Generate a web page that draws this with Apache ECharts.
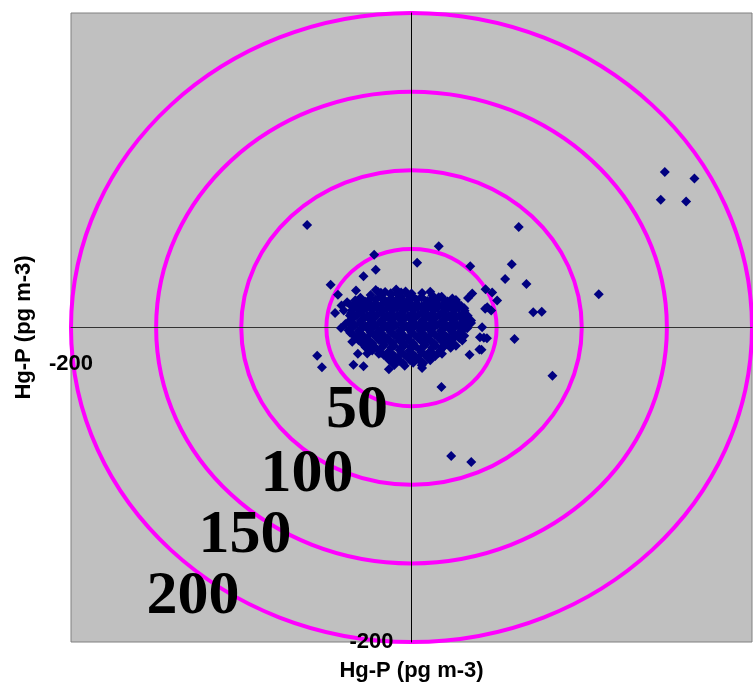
<!DOCTYPE html>
<html>
<head>
<meta charset="utf-8">
<script src="https://cdn.jsdelivr.net/npm/echarts@6/dist/echarts.min.js"></script>
<style>
html,body{margin:0;padding:0;background:#fff;}
#chart{width:753px;height:685px;}
</style>
</head>
<body>
<div id="chart"></div>
<script>
// ---- data ----
const axisTitle = 'Hg-P (pg m-3)';
const axisMin = -200;
const axisMax = 200;
const ringRadii = [50, 100, 150, 200];
const ringLabels = ['50', '100', '150', '200'];

// dense central cluster (pg m-3)
const clusterPoints = [
  [-21,23.8],[-15.5,22.6],[-9,24.1],[-3.5,22.9],
  [-24,20.6],[-18.2,19.8],[-12,20.9],[-6.3,19.5],[0.4,20.1],[5.8,19.2],[12.3,20.4],[17.7,19.6],
  [-33,17.4],[-27.3,16.6],[-21,17.8],[-15.2,16.9],[-9.1,17.3],[-2.8,16.4],[3.1,17.6],[9.2,16.8],[15,17.2],[21.2,16.5],[26.1,17.5],
  [-30.2,13.6],[-24,14.3],[-18.1,13.8],[-11.7,14.4],[-6,13.7],[0.2,14.2],[6.1,13.5],[12.2,14.1],[18,13.8],[24.3,14.4],[29.1,13.9],
  [-35,10.9],[-29.2,10.4],[-23,11.1],[-17.1,10.6],[-11.2,11],[-5,10.5],[1.1,11.2],[7.2,10.7],[13,10.9],[19.1,10.3],[25,11],[31.2,10.6],
  [-32.1,7.8],[-26,7.3],[-20.2,7.9],[-14,7.4],[-8.1,7.7],[-2,7.2],[4.1,7.9],[10,7.5],[16.2,7.8],[22,7.3],[28.1,7.7],[33,7.4],
  [-36.2,4.5],[-30,4.1],[-24.1,4.7],[-18,4.2],[-12.2,4.6],[-6,4.3],[0.1,4.8],[6.2,4.1],[12,4.5],[18.1,4.2],[24,4.6],[30.2,4.3],[35,4.5],
  [-33.2,1.5],[-27,1],[-21.1,1.6],[-15,1.1],[-9.2,1.4],[-3,0.9],[3.1,1.5],[9,1.2],[15.1,1.6],[21,1.0],[27.2,1.4],[33,1.1],
  [-37,-1.7],[-31.1,-2.2],[-25,-1.6],[-19.2,-2.1],[-13,-1.8],[-7.1,-2.3],[-1,-1.6],[5.1,-2.0],[11,-1.7],[17.2,-2.2],[23,-1.8],[29.1,-2.1],
  [-34,-4.9],[-28.2,-5.4],[-22,-4.8],[-16.1,-5.3],[-10,-5.0],[-4.2,-5.5],[2,-4.9],[8.1,-5.2],[14,-4.8],[20.2,-5.4],[26,-5.0],[31,-5.3],
  [-31.1,-8.1],[-25,-8.6],[-19.2,-8.0],[-13,-8.5],[-7.1,-8.2],[-1,-8.7],[5.2,-8.1],[11,-8.4],[17.1,-8.0],[23,-8.6],
  [-28,-11.2],[-22.1,-11.7],[-16,-11.1],[-10.2,-11.6],[-4,-11.3],[2.1,-11.8],[8,-11.2],[14.2,-11.5],[20,-11.1],[26.1,-11.6],
  [-19,-14.4],[-13.1,-14.9],[-7,-14.3],[-1.2,-14.8],[5,-14.5],[11.1,-14.9],[17,-14.4],
  [-16.1,-17.6],[-10,-18.1],[-4.1,-17.5],[2,-18],[8.1,-17.7],[14,-18.2],
  [-13,-20.8],[-7.1,-21.3],[-1,-20.7],[5.1,-21.2],[11,-20.9],
  [-10.1,-23.9],[-4,-24.4],[6,-24]
];

// more overlapping points inside the cluster (pg m-3)
const clusterPointsB = [
  [-18,22.1],[-12.2,21.8],[-6.1,22.3],[0,21.7],[6.2,22.0],
  [-30,18.9],[-24.1,18.5],[-18,19.0],[-12.1,18.4],[-6,18.8],[0.1,18.6],[6,19.0],[12.2,18.5],[18,18.9],[24,18.4],
  [-33.5,15.3],[-27.2,15.7],[-21,15.2],[-15,15.8],[-9,15.4],[-3,15.6],[3,15.2],[9.1,15.7],[15,15.3],[21,15.6],[27,15.2],
  [-32.5,12.6],[-26.5,12.2],[-20.5,12.5],[-14.5,12.1],[-8.5,12.6],[-2.5,12.3],[3.5,12.5],[9.5,12.1],[15.5,12.6],[21.5,12.2],[27.5,12.5],[31,12.2],
  [-35.5,9.0],[-29.5,9.4],[-23.5,9.1],[-17.5,9.3],[-11.5,8.9],[-5.5,9.4],[0.5,9.0],[6.5,9.3],[12.5,8.9],[18.5,9.4],[24.5,9.1],[30.5,9.3],
  [-34,6.2],[-28,5.8],[-22,6.1],[-16,5.7],[-10,6.2],[-4,5.9],[2,6.1],[8,5.8],[14,6.2],[20,5.7],[26,6.0],[32,5.8],
  [-36,2.9],[-30,2.6],[-24,3.0],[-18,2.7],[-12,2.9],[-6,2.5],[0,3.0],[6,2.7],[12,2.9],[18,2.6],[24,3.0],[30,2.7],[35,2.9],
  [-35,-0.1],[-29,-0.5],[-23,-0.2],[-17,-0.4],[-11,0.0],[-5,-0.5],[1,-0.2],[7,-0.4],[13,0.0],[19,-0.5],[25,-0.2],[31,-0.4],
  [-36,-3.3],[-30,-3.7],[-24,-3.4],[-18,-3.6],[-12,-3.2],[-6,-3.7],[0,-3.4],[6,-3.6],[12,-3.3],[18,-3.7],[24,-3.4],[29,-3.6],
  [-32,-6.5],[-26,-6.9],[-20,-6.6],[-14,-6.8],[-8,-6.4],[-2,-6.9],[4,-6.6],[10,-6.8],[16,-6.5],[22,-6.9],[28,-6.6],
  [-29,-9.6],[-23,-10.0],[-17,-9.7],[-11,-9.9],[-5,-9.5],[1,-10.0],[7,-9.7],[13,-9.9],[19,-9.6],[24,-10.0],
  [-24,-12.8],[-18,-13.2],[-12,-12.9],[-6,-13.1],[0,-12.7],[6,-13.2],[12,-12.9],[18,-13.1],[23,-12.8],
  [-18,-16.0],[-12,-16.4],[-6,-16.1],[0,-16.3],[6,-15.9],[12,-16.4],[16,-16.1],
  [-14,-19.2],[-8,-19.6],[-2,-19.3],[4,-19.5],[10,-19.2],
  [-11,-22.3],[-5,-22.7],[1,-22.4],[7,-22.6]
];

// scattered points around the cluster (pg m-3)
const outerPoints = [
  [148.8,98.9],[166.2,94.8],[146.4,81.3],[161.3,80.2],[63.0,63.9],[58.9,40.3],[55.0,30.9],[67.5,27.7],
  [110.0,21.1],[43.5,24.4],[47.4,22.2],[50.3,17.1],[43.3,11.9],[46.8,10.8],[71.5,9.7],[76.5,10.0],
  [41.5,0.2],[42.5,-6.5],[44.3,-6.8],[60.5,-7.3],[41.1,-14.2],[82.8,-30.7],[16.0,51.7],[-21.9,46.2],
  [3.3,41.1],[34.5,38.9],[-21.0,36.8],[-28.2,32.6],[-61.3,65.2],[-47.5,27.2],[-32.6,23.5],[-43.2,20.8],
  [-19.7,22.7],[11.0,22.7],[35.7,21.6],[33.2,18.7],[-44.9,9.2],[-41.4,-0.3],[-55.4,-18.0],[-52.6,-25.2],
  [-34.1,-23.7],[-28.2,-24.6],[-13.3,-26.5],[6.2,-25.7],[34.1,-17.3],[39.9,-14.0],[17.6,-37.9],[23.3,-81.7],
  [35.1,-85.5],[-31.5,-16.7],[-26.0,-16.5],[-34.8,-9.1],[17.9,-16.7],[-41.1,14.0],[-36.2,7.6],[-37.8,16.1],
  [44.5,12.9],[40.2,-6.2],[32.7,-0.4],[24.5,-7.2],[29.8,-8.3],[16.0,19.2],[21.9,15.0],[-1.6,20.3],
  [-5.5,16.1],[-8.4,21.4],[-16.3,17.1],[-25.1,17.1],[-30.0,15.0],[-38.8,2.3],[-27.0,-12.5],[-23.1,-14.6],
  [-19.2,-16.7],[-10.4,-20.5],[3.3,-19.9],[11.2,-15.7],[18.0,-12.5],[27.8,-4.0],[-39.8,10.8],[-36.2,14.6]
];

// ---- chart ----
const chart = echarts.init(document.getElementById('chart'), null, {renderer: 'canvas'});
const labelFont = {fontFamily: 'Liberation Sans, Arial, sans-serif', fontWeight: 'bold', fontSize: 22, color: '#000'};
const ringLabelFont = 'bold 62px "Liberation Serif", "Times New Roman", serif';
const ringLabelPos = [[357, 411], [307, 475], [245, 536], [193, 597]];

chart.setOption({
  animation: false,
  backgroundColor: '#fff',
  grid: {
    left: 71, top: 13, width: 681, height: 629,
    containLabel: false, outerBoundsMode: 'none',
    show: true, backgroundColor: '#C0C0C0', borderColor: '#808080', borderWidth: 1
  },
  xAxis: {
    type: 'value', min: axisMin, max: axisMax,
    offset: -314.5, z: 2,
    name: axisTitle, nameLocation: 'middle', nameGap: 332,
    nameTextStyle: labelFont,
    axisLine: {onZero: false, lineStyle: {color: '#333', width: 1}},
    axisTick: {show: false},
    splitLine: {show: false},
    axisLabel: Object.assign({
      margin: 25,
      formatter: v => (v === axisMin ? String(v) : '')
    }, labelFont)
  },
  yAxis: {
    type: 'value', min: axisMin, max: axisMax,
    offset: -340.5, z: 2,
    name: axisTitle, nameLocation: 'middle', nameGap: 377,
    nameTextStyle: labelFont,
    axisLine: {onZero: false, lineStyle: {color: '#000', width: 1}},
    axisTick: {show: false},
    splitLine: {show: false},
    axisLabel: Object.assign({
      margin: 18,
      formatter: v => (v === axisMin ? String(v) : '')
    }, labelFont)
  },
  graphic: ringLabels.map((t, i) => ({
    type: 'text', z: 100,
    x: ringLabelPos[i][0], y: ringLabelPos[i][1],
    style: {text: t, font: ringLabelFont, fill: '#000', textAlign: 'center', verticalAlign: 'middle', textVerticalAlign: 'middle'}
  })),
  series: [
    {
      type: 'custom',
      coordinateSystem: 'cartesian2d',
      silent: true,
      clip: false,
      z: 1,
      encode: {x: 0, y: 1},
      data: ringRadii.map(r => [0, 0, r]),
      renderItem: function (params, api) {
        const c = api.coord([api.value(0), api.value(1)]);
        const r = api.value(2);
        const s = api.size([r, r]);
        return {
          type: 'ellipse',
          shape: {cx: c[0], cy: c[1], rx: s[0], ry: s[1]},
          style: {fill: null, stroke: '#FF00FF', lineWidth: 4}
        };
      }
    },
    {
      type: 'scatter', z: 3,
      symbol: 'diamond', symbolSize: 10,
      itemStyle: {color: '#000080', opacity: 1},
      data: outerPoints.concat(clusterPoints, clusterPointsB)
    }
  ]
});
</script>
</body>
</html>
